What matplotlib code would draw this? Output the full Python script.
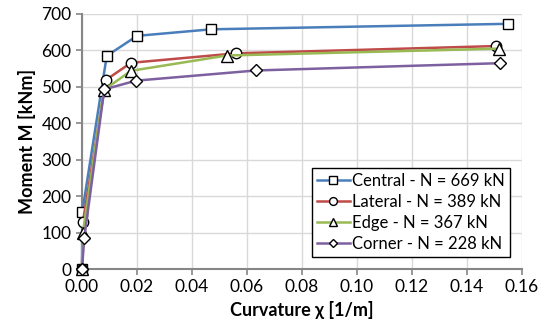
import numpy as np
import matplotlib
matplotlib.use("Agg")
import matplotlib.pyplot as plt

plt.rcParams['font.family'] = ['Lato', 'DejaVu Sans']

# curvature [1/m] and moment [kNm] per column position
central_x = [0.0, 0.0001, 0.0090, 0.0200, 0.0470, 0.1548]
central_m = [0, 157, 585, 640, 658, 673]
lateral_x = [0.0, 0.0003, 0.0087, 0.0178, 0.0559, 0.1505]
lateral_m = [0, 128, 519, 566, 592, 612]
edge_x = [0.0, 0.0003, 0.0079, 0.0178, 0.0526, 0.1518]
edge_m = [0, 99, 491, 544, 586, 605]
corner_x = [0.0, 0.0008, 0.0081, 0.0196, 0.0633, 0.1520]
corner_m = [0, 84, 493, 517, 545, 565]

series = [
    (central_x, central_m, 'Central - N = 669 kN', '#4a7ebb', 's', 7.5),
    (lateral_x, lateral_m, 'Lateral - N = 389 kN', '#be4b48', 'o', 7.5),
    (edge_x, edge_m, 'Edge - N = 367 kN', '#98b954', '^', 8),
    (corner_x, corner_m, 'Corner - N = 228 kN', '#7d60a0', 'D', 6),
]

fig = plt.figure(figsize=(5.45, 3.32), dpi=100)
ax = fig.add_axes([82/545, 1 - 269/332, 440/545, 255/332])

for x, m, lab, col, mk, ms in series:
    ax.plot(x, m, color=col, lw=1.8, marker=mk, ms=ms, clip_on=False,
            mfc='white', mec='black', mew=1.0, label=lab, zorder=3)

ax.set_xlim(0, 0.16)
ax.set_ylim(0, 700)
ax.set_xticks(np.arange(0, 0.161, 0.02))
ax.set_yticks(np.arange(0, 701, 100))
ax.xaxis.set_major_formatter(matplotlib.ticker.FormatStrFormatter('%.2f'))
ax.grid(True, color='#d9d9d9', lw=1.0)
ax.set_axisbelow(True)
for s in ['top', 'right']:
    ax.spines[s].set_visible(False)
for s in ['left', 'bottom']:
    ax.spines[s].set_color('#868686')
    ax.spines[s].set_linewidth(1.5)
ax.tick_params(labelsize=12.5, color='#868686', length=4, width=1.2)
ax.set_xlabel('Curvature χ [1/m]', fontsize=13, fontweight='bold')
ax.set_ylabel('Moment M [kNm]', fontsize=13, fontweight='bold')

leg = ax.legend(loc='lower right', fontsize=12, frameon=True, fancybox=False,
                edgecolor='black', framealpha=1, borderpad=0.3, labelspacing=0.3,
                handlelength=2.0, handletextpad=0.15, markerscale=0.75,
                bbox_to_anchor=(0.992, 0.016))
leg.get_frame().set_linewidth(1.0)

fig.savefig('out.png', dpi=100)
